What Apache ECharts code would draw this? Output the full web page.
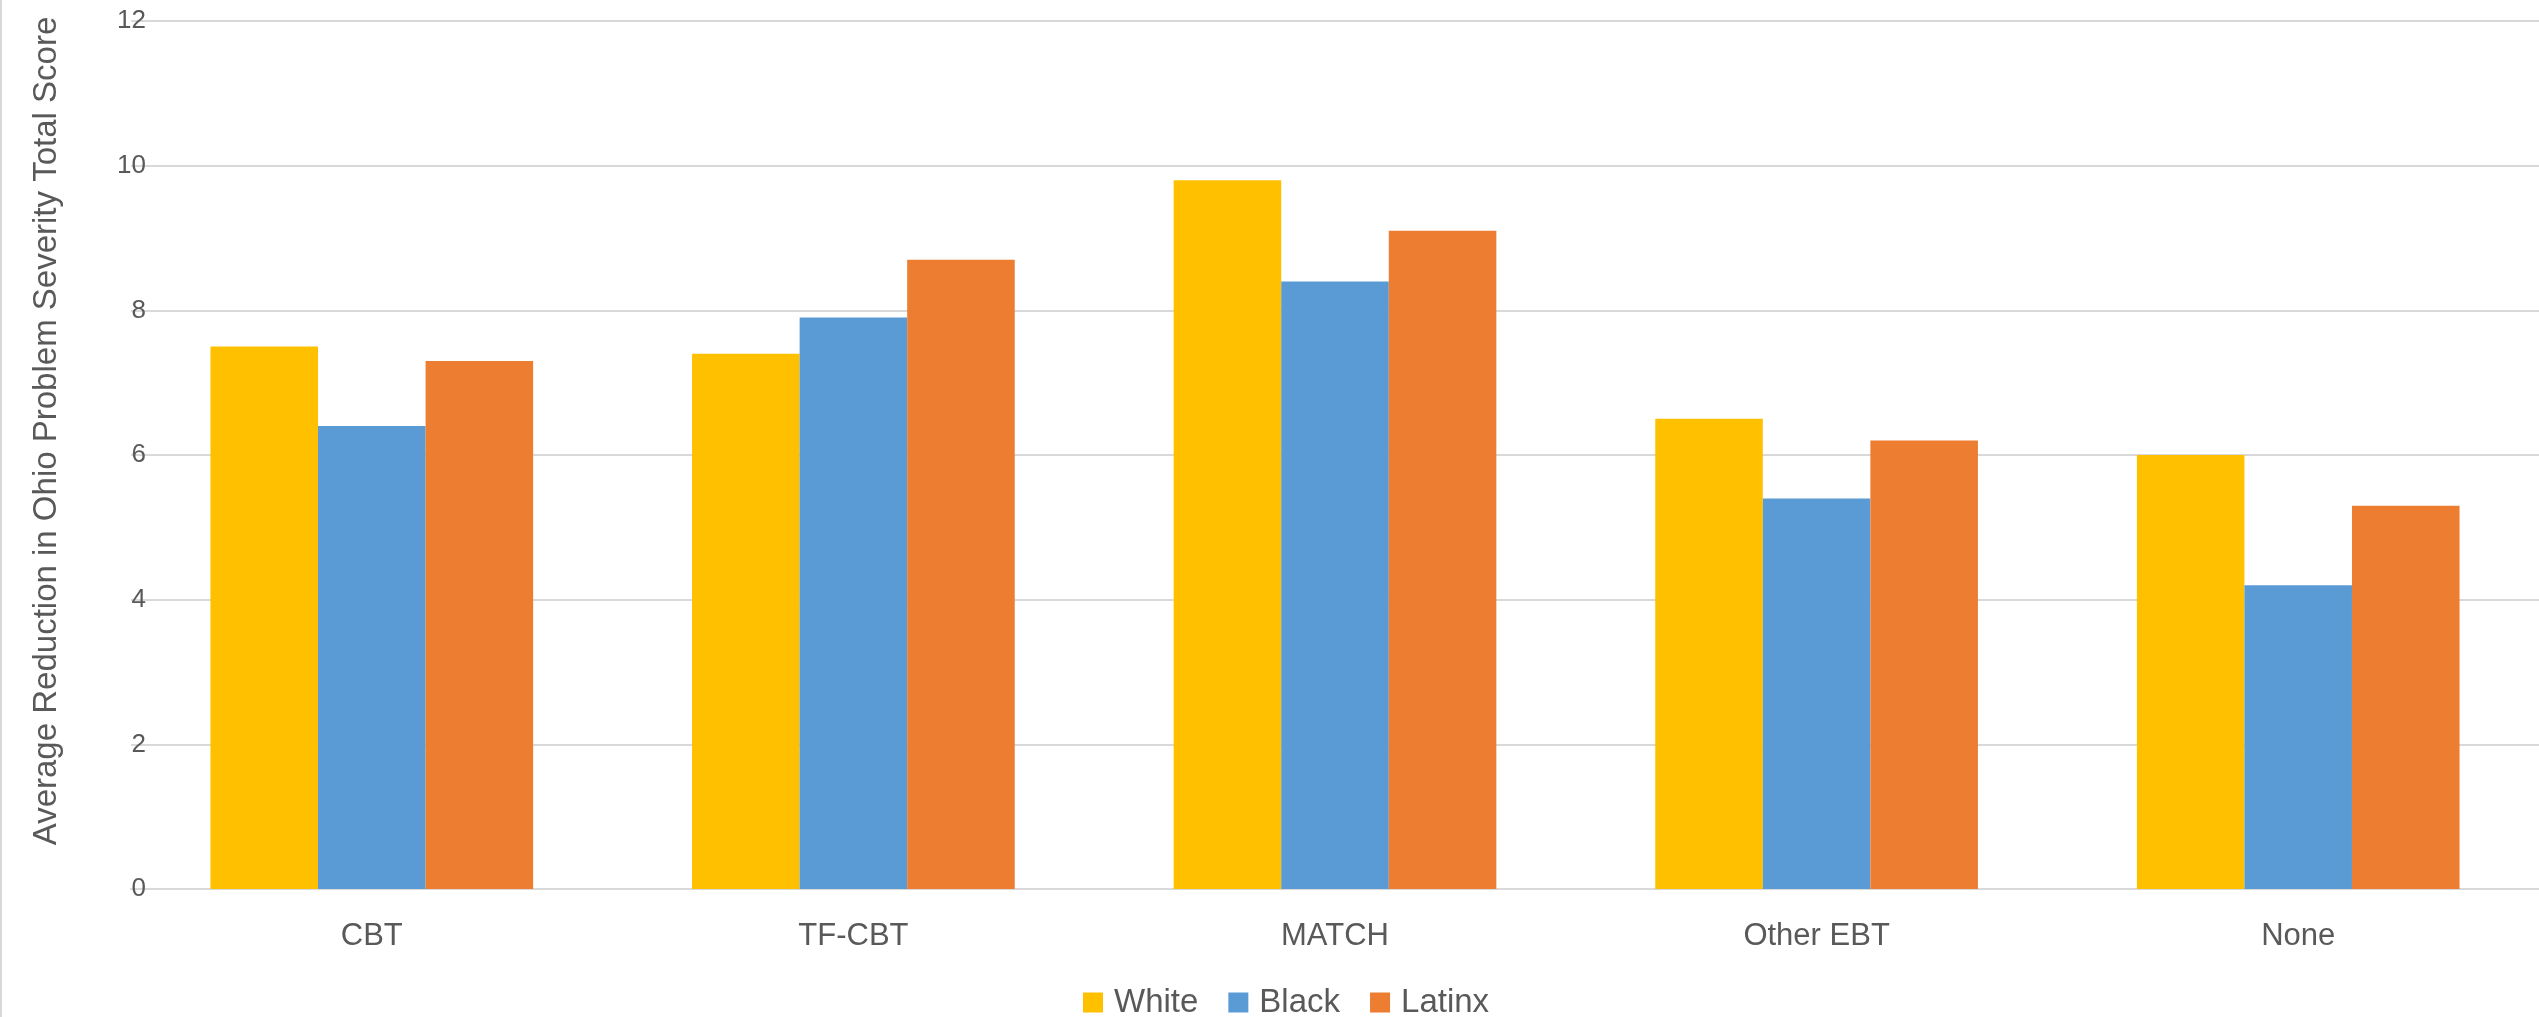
<!DOCTYPE html>
<html>
<head>
    <meta charset="utf-8">
    <title>ECharts</title>
    <script type="text/javascript" src="https://cdn.jsdelivr.net/npm/echarts@6/dist/echarts.min.js"></script>
    <style>
        html, body { margin: 0; padding: 0; background: #fff; }
    </style>
</head>
<body>
<div id="main" style="width: 2539px;height:1017px;"></div>
<script type="text/javascript">
    // data
    var categories = ['CBT', 'TF-CBT', 'MATCH', 'Other EBT', 'None'];
    var whiteVals = [7.5, 7.4, 9.8, 6.5, 6.0];
    var blackVals = [6.4, 7.9, 8.4, 5.4, 4.2];
    var latinxVals = [7.3, 8.7, 9.1, 6.2, 5.3];
    var seriesNames = ['White', 'Black', 'Latinx'];
    var yTicks = [0, 2, 4, 6, 8, 10, 12];

    var textColor = '#595959';
    var font = 'Liberation Sans, Arial, sans-serif';

    var myChart = echarts.init(document.getElementById('main'));

    var option = {
        backgroundColor: '#fff',
        animation: false,
        color: ['#FFC000', '#5B9BD5', '#ED7D31'],
        grid: {
            left: 131,
            top: 21,
            width: 2410,
            height: 868
        },
        legend: {
            data: seriesNames,
            left: 1078,
            top: 981,
            icon: 'rect',
            itemWidth: 20,
            itemHeight: 20,
            itemGap: 30,
            textStyle: {
                color: textColor,
                fontFamily: font,
                fontSize: 33,
                padding: [0, 0, 0, 6]
            }
        },
        xAxis: {
            type: 'category',
            data: categories,
            axisTick: { show: false },
            axisLine: { lineStyle: { color: '#D9D9D9', width: 2 } },
            axisLabel: {
                color: textColor,
                fontFamily: font,
                fontSize: 31,
                margin: 32
            }
        },
        yAxis: {
            type: 'value',
            min: yTicks[0],
            max: yTicks[yTicks.length - 1],
            interval: 2,
            axisLine: { show: false },
            axisTick: { show: false },
            splitLine: { lineStyle: { color: '#D9D9D9', width: 2 } },
            axisLabel: {
                color: textColor,
                fontFamily: font,
                fontSize: 26,
                align: 'right',
                margin: -15
            }
        },
        graphic: [
            {
                type: 'rect',
                left: 0,
                top: 0,
                shape: { width: 2, height: 1017 },
                style: { fill: '#D9D9D9' }
            },
            {
                type: 'text',
                x: 47,
                y: 431,
                rotation: Math.PI / 2,
                style: {
                    text: 'Average Reduction in Ohio Problem Severity Total Score',
                    fill: textColor,
                    font: '33px Liberation Sans, Arial, sans-serif',
                    align: 'center',
                    verticalAlign: 'middle'
                }
            }
        ],
        series: [
            { name: seriesNames[0], type: 'bar', data: whiteVals, barGap: '0%', barCategoryGap: '33%' },
            { name: seriesNames[1], type: 'bar', data: blackVals, barGap: '0%', barCategoryGap: '33%' },
            { name: seriesNames[2], type: 'bar', data: latinxVals, barGap: '0%', barCategoryGap: '33%' }
        ]
    };

    myChart.setOption(option);
</script>
</body>
</html>
